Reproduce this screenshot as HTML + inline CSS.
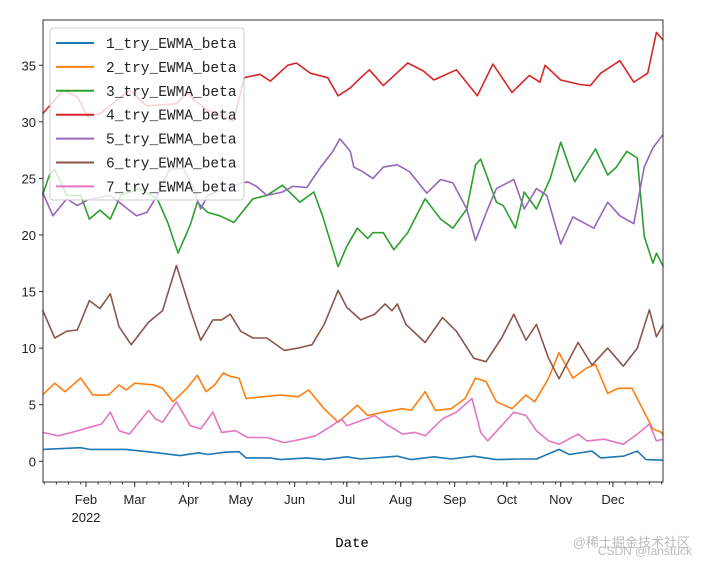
<!DOCTYPE html>
<html><head><meta charset="utf-8"><style>
body{margin:0;background:#fff}
svg{display:block;font-family:"Liberation Sans","Noto Sans CJK SC",sans-serif}
</style></head><body>
<svg id="chart" width="707" height="566">
<rect x="0" y="0" width="707" height="566" fill="#fff"/>
<g id="plot"></g>
<rect x="43" y="20" width="620" height="462" fill="none" stroke="#333" stroke-width="1"/>
<g id="yaxis"></g>
<g id="xaxis"></g>
<text x="352" y="547" font-size="14" text-anchor="middle" font-family="Liberation Mono, monospace">Date</text>
<g id="legend"></g>
<text x="690" y="547" font-size="13" text-anchor="end" fill="#bbb">@稀土掘金技术社区</text>
<text x="692" y="555" font-size="12" text-anchor="end" fill="#bbb">CSDN @fanstuck</text>
</svg>
<script>
const seriesNames = ["1_try_EWMA_beta","2_try_EWMA_beta","3_try_EWMA_beta","4_try_EWMA_beta","5_try_EWMA_beta","6_try_EWMA_beta","7_try_EWMA_beta"];
const colors = ["#1f77b4","#ff7f0e","#2ca02c","#d62728","#9467bd","#8c564b","#e377c2"];
const yTicks = [0,5,10,15,20,25,30,35];
const monthLabels = ["Feb","Mar","Apr","May","Jun","Jul","Aug","Sep","Oct","Nov","Dec"];
const monthDays = [31,59,90,120,151,181,212,243,273,304,334];
// series 1
const s1Days = [6,28,33,54,72,85,96,101,111,119,123,137,143,158,168,181,189,210,218,231,241,254,267,280,290,303,309,322,327,340,348,353,363];
const s1Vals = [1.05,1.2,1.05,1.05,0.75,0.5,0.75,0.6,0.8,0.85,0.3,0.3,0.15,0.3,0.15,0.4,0.2,0.45,0.15,0.4,0.2,0.45,0.15,0.2,0.2,1.05,0.6,0.9,0.3,0.45,0.9,0.15,0.1];
// series 2
const s2Days = [6,13,19,28,35,44,50,54,59,70,75,81,89,95,100,105,110,114,119,123,132,143,153,159,168,176,187,193,202,213,218,226,232,241,249,255,261,267,276,284,289,297,303,311,319,324,331,337,345,352,357,362,363];
const s2Vals = [5.85,6.9,6.15,7.35,5.85,5.85,6.75,6.3,6.9,6.75,6.45,5.26,6.45,7.6,6.15,6.75,7.8,7.5,7.35,5.55,5.7,5.85,5.7,6.3,4.65,3.45,4.96,4.05,4.35,4.65,4.5,6.15,4.5,4.65,5.55,7.35,7.05,5.26,4.65,5.85,5.26,7.35,9.6,7.35,8.25,8.55,6.0,6.45,6.45,4.35,2.85,2.55,2.25];
// series 3
const s3Days = [6,10,13,20,28,33,39,45,51,62,72,78,84,91,95,101,108,116,127,135,144,154,162,167,176,181,187,193,196,202,208,216,226,235,242,250,255,258,262,267,271,278,283,290,298,304,312,324,331,336,342,348,352,357,359,363];
const s3Vals = [23.5,25.3,25.8,23.5,23.5,21.4,22.2,21.4,23.5,24.1,23.2,21.1,18.4,20.9,22.9,22.0,21.7,21.1,23.2,23.5,24.4,22.9,23.8,21.7,17.2,19.0,20.6,19.7,20.2,20.2,18.7,20.2,23.2,21.4,20.6,22.3,26.2,26.7,25.0,22.9,22.6,20.6,23.8,22.3,25.0,28.2,24.7,27.6,25.3,26.0,27.4,26.8,19.9,17.5,18.4,17.2];
// series 4
const s4Days = [6,18,26,32,39,56,66,83,89,101,116,122,131,137,147,152,160,170,176,183,189,194,202,216,225,231,244,256,265,276,286,292,295,304,315,321,327,338,346,354,359,363];
const s4Vals = [30.7,32.8,32.2,30.5,30.7,32.8,31.4,31.6,32.5,31.0,30.1,33.9,34.2,33.6,35.0,35.2,34.3,33.9,32.3,33.0,33.9,34.6,33.2,35.2,34.5,33.7,34.6,32.3,35.1,32.6,34.1,33.5,35.0,33.7,33.3,33.2,34.3,35.4,33.5,34.3,37.9,37.2];
// series 5
const s5Days = [6,12,20,26,32,45,55,60,66,72,79,87,92,97,101,116,124,129,135,144,150,158,166,173,177,183,185,190,196,202,210,217,227,235,242,250,255,262,267,277,283,290,296,304,311,323,331,338,346,352,357,363];
const s5Vals = [23.8,21.7,23.2,22.6,23.1,23.5,22.3,21.7,22.0,23.5,25.8,25.9,24.4,22.3,23.5,24.4,24.7,24.3,23.5,23.8,24.3,24.2,26.0,27.4,28.5,27.4,26.0,25.6,25.0,26.0,26.2,25.6,23.7,24.9,24.6,22.3,19.5,22.3,24.1,24.9,22.3,24.1,23.5,19.2,21.6,20.6,22.9,21.7,21.0,26.0,27.7,28.9];
// series 6
const s6Days = [6,13,20,26,33,39,45,50,57,67,75,83,91,97,104,109,114,120,127,135,145,153,161,168,176,181,189,197,203,207,210,215,226,236,244,254,261,270,277,284,290,297,303,314,322,331,340,348,355,359,363];
const s6Vals = [13.4,10.9,11.5,11.6,14.2,13.5,14.8,11.9,10.3,12.3,13.3,17.3,13.4,10.7,12.5,12.5,13.0,11.5,10.9,10.9,9.8,10.0,10.3,12.1,15.1,13.6,12.5,13.0,13.9,13.3,13.9,12.1,10.5,12.7,11.5,9.1,8.8,10.9,13.0,10.7,12.1,9.1,7.3,10.5,8.5,10.0,8.4,10.0,13.4,11.0,12.1];
// series 7
const s7Days = [6,15,23,33,40,45,50,56,67,71,75,83,91,97,104,109,117,124,135,145,155,163,171,178,181,192,197,205,213,220,226,236,244,253,258,262,270,277,284,290,297,303,314,319,329,340,348,355,359,363];
const s7Vals = [2.55,2.25,2.55,3.0,3.3,4.35,2.7,2.4,4.5,3.75,3.45,5.26,3.15,2.85,4.35,2.55,2.7,2.1,2.1,1.65,1.95,2.25,3.0,3.75,3.15,3.75,4.05,3.15,2.4,2.55,2.25,3.75,4.35,5.55,2.55,1.8,3.15,4.35,4.05,2.7,1.8,1.5,2.4,1.8,1.95,1.5,2.4,3.3,1.8,1.95];

const allDays=[s1Days,s2Days,s3Days,s4Days,s5Days,s6Days,s7Days];
const allVals=[s1Vals,s2Vals,s3Vals,s4Vals,s5Vals,s6Vals,s7Vals];
const NS="http://www.w3.org/2000/svg";
const L=43,R=663,T=20,B=482,dMin=6.3,dMax=362.8,yMin=-1.83,yMax=39.0;
const xs=d=>L+(d-dMin)/(dMax-dMin)*(R-L);
const ys=v=>B-(v-yMin)/(yMax-yMin)*(B-T);
function mk(t,a,p){const e=document.createElementNS(NS,t);for(const k in a)e.setAttribute(k,a[k]);p.appendChild(e);return e;}
const plot=document.getElementById('plot');
for(let i=0;i<7;i++){
  const pts=allDays[i].map((d,j)=>xs(d).toFixed(1)+','+ys(allVals[i][j]).toFixed(1)).join(' ');
  const pl=mk('polyline',{points:pts,fill:'none',stroke:colors[i],'stroke-width':1.6,'stroke-linejoin':'round'},plot);
  
  
}
const ya=document.getElementById('yaxis');
yTicks.forEach(v=>{
  const y=ys(v);
  mk('line',{x1:L-4,x2:L,y1:y,y2:y,stroke:'#333'},ya);
  const t=mk('text',{x:L-7,y:y+5,'font-size':13,'text-anchor':'end',fill:'#222'},ya);
  t.textContent=v;
  
  
});
const xa=document.getElementById('xaxis');
// minor ticks (weekly within months)
const minorDays=[];
const mStarts=[0,31,59,90,120,151,181,212,243,273,304,334,365];
for(let m=0;m<12;m++){for(let k=0;k<5;k++){const d=mStarts[m]+7*k;if(d<mStarts[m+1])minorDays.push(d);}}
minorDays.forEach(d=>{if(d<dMin||d>dMax)return;mk('line',{x1:xs(d),x2:xs(d),y1:B,y2:B+2.5,stroke:'#333'},xa);});
monthLabels.forEach((lab,i)=>{
  const x=xs(monthDays[i]);
  mk('line',{x1:x,x2:x,y1:B,y2:B+5,stroke:'#333'},xa);
  const t=mk('text',{x:x,y:B+22,'font-size':13,'text-anchor':'middle',fill:'#222'},xa);
  t.textContent=lab;
  
  
});
const yr=mk('text',{x:xs(31),y:B+40,'font-size':13,'text-anchor':'middle',fill:'#222'},xa);
yr.textContent='2022';


const lg=document.getElementById('legend');
mk('rect',{x:50,y:28,width:194,height:172,rx:3,fill:'#fff','fill-opacity':0.8,stroke:'#ccc'},lg);
seriesNames.forEach((n,i)=>{
  const y=43+i*23.9;
  const g=mk('g',{},lg);
  
  
  mk('line',{x1:56,x2:94,y1:y,y2:y,stroke:colors[i],'stroke-width':2},g);
  const t=mk('text',{x:106,y:y+5,'font-size':14.5,fill:'#222','font-family':'Liberation Mono, monospace'},g);
  t.textContent=n;
});
</script>
</body></html>
